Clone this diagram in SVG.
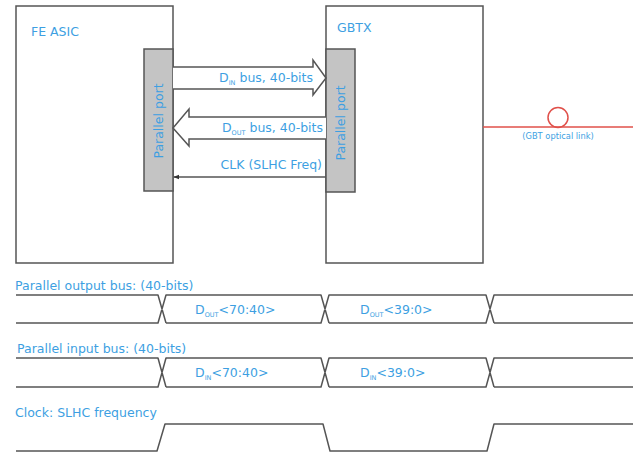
<svg xmlns="http://www.w3.org/2000/svg" width="643" height="453" viewBox="0 0 643 453">
<defs>
<style>
.box{fill:#fff;stroke:#555;stroke-width:1.5}
.port{fill:#c4c4c4;stroke:#555;stroke-width:1.5}
.arr{fill:#fff;stroke:#555;stroke-width:1.5;stroke-linejoin:miter}
.wave{fill:none;stroke:#555;stroke-width:1.5;stroke-linejoin:round}
.t{font-family:"DejaVu Sans","Liberation Sans",sans-serif;font-size:12.5px;fill:#3d9fe2}
.s{font-size:6.5px}
.small{font-family:"DejaVu Sans","Liberation Sans",sans-serif;font-size:8.3px;fill:#3d9fe2}
.red{fill:none;stroke:#e0504a;stroke-width:1.5}
</style>
<marker id="ah" viewBox="0 0 10 10" refX="9" refY="5" markerWidth="6" markerHeight="6" orient="auto-start-reverse" markerUnits="userSpaceOnUse">
<path d="M0,1 L10,5 L0,9 z" fill="#333"/>
</marker>
</defs>
<rect width="643" height="453" fill="#fff"/>

<g id="fe-asic">
<rect class="box" x="16" y="6" width="157" height="257"/>
<text class="t" x="31" y="36">FE ASIC</text>
</g>
<g id="gbtx">
<rect class="box" x="326" y="6" width="157" height="257"/>
<text class="t" x="337" y="32">GBTX</text>
</g>
<g id="fe-port">
<rect class="port" x="144" y="49" width="29" height="142"/>
<text class="t" transform="translate(163,121) rotate(-90)" text-anchor="middle">Parallel port</text>
</g>
<g id="gbtx-port">
<rect class="port" x="326" y="49" width="29" height="143"/>
<text class="t" transform="translate(345,123) rotate(-90)" text-anchor="middle">Parallel port</text>
</g>

<g id="connectors">
<path class="arr" d="M173,67 L313,67 L313,60 L326,78 L313,95 L313,89 L173,89"/>
<path class="arr" d="M326,117 L189,117 L189,109 L173,128 L189,146 L189,139 L326,139"/>
<line x1="326" y1="177" x2="174" y2="177" stroke="#555" stroke-width="1.5" marker-end="url(#ah)"/>
<line class="red" x1="483" y1="127" x2="633" y2="127"/>
<circle class="red" cx="558" cy="117.5" r="10"/>
</g>

<text class="t" x="313" y="82" text-anchor="end">D<tspan class="s" dy="3">IN</tspan><tspan dy="-3"> bus, 40-bits</tspan></text>
<text class="t" x="323" y="132" text-anchor="end">D<tspan class="s" dy="3">OUT</tspan><tspan dy="-3"> bus, 40-bits</tspan></text>
<text class="t" x="322" y="169" text-anchor="end">CLK (SLHC Freq)</text>
<text class="small" x="558" y="139" text-anchor="middle">(GBT optical link)</text>

<g id="timing">
<text class="t" x="15" y="290">Parallel output bus: (40-bits)</text>
<path class="wave" d="M16,295 L158,295 L166,323 M16,323 L158,323 L166,295 L321,295 L329,323 M166,323 L321,323 L329,295 L486,295 L494,323 M329,323 L486,323 L494,295 L633,295 M494,323 L633,323"/>
<text class="t" x="195" y="314">D<tspan class="s" dy="3">OUT</tspan><tspan dy="-3">&lt;70:40&gt;</tspan></text>
<text class="t" x="360" y="314">D<tspan class="s" dy="3">OUT</tspan><tspan dy="-3">&lt;39:0&gt;</tspan></text>

<text class="t" x="17" y="353">Parallel input bus: (40-bits)</text>
<path class="wave" d="M16,358 L158,358 L166,387 M16,387 L158,387 L166,358 L321,358 L329,387 M166,387 L321,387 L329,358 L486,358 L494,387 M329,387 L486,387 L494,358 L633,358 M494,387 L633,387"/>
<text class="t" x="195" y="377">D<tspan class="s" dy="3">IN</tspan><tspan dy="-3">&lt;70:40&gt;</tspan></text>
<text class="t" x="360" y="377">D<tspan class="s" dy="3">IN</tspan><tspan dy="-3">&lt;39:0&gt;</tspan></text>

<text class="t" x="15" y="417">Clock: SLHC frequency</text>
<path class="wave" d="M16,451 L157,451 L165,424 L323,424 L330,451 L487,451 L494,424 L633,424"/>
</g>
</svg>
